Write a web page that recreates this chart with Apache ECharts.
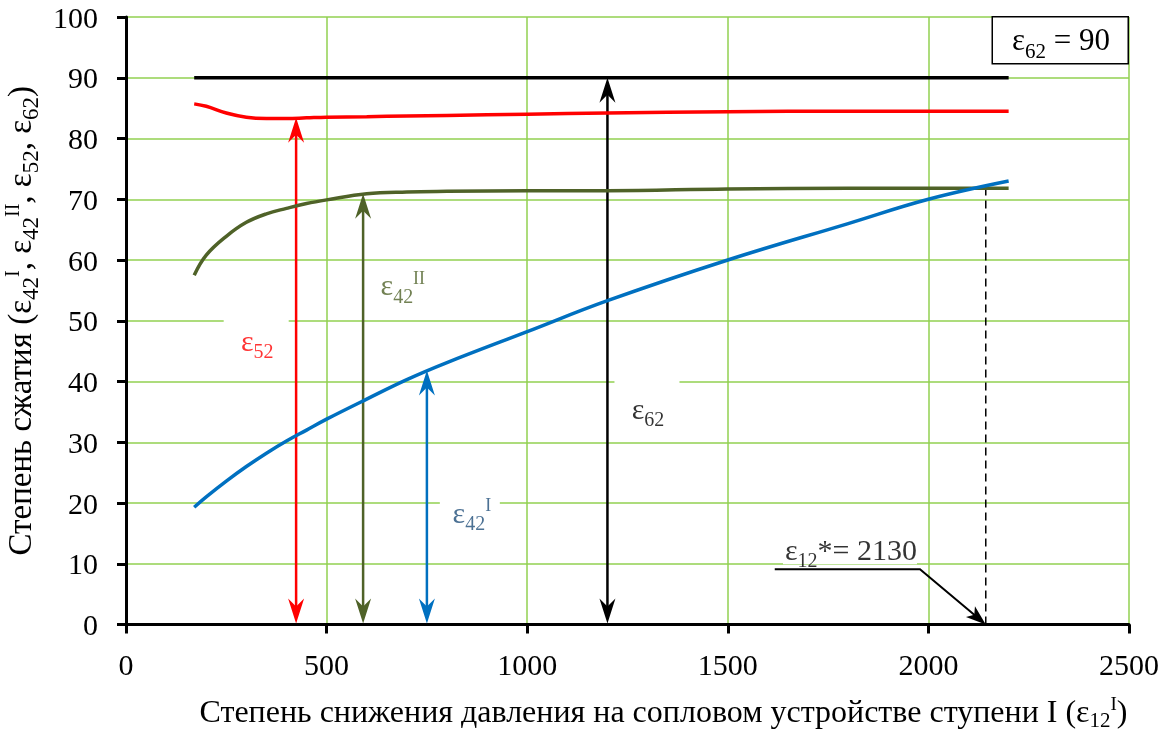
<!DOCTYPE html>
<html><head><meta charset="utf-8">
<script src="https://cdn.jsdelivr.net/npm/echarts@6/dist/echarts.min.js"></script>
<style>
html,body{margin:0;padding:0;background:#fff}
#wrap{position:relative;width:1170px;height:732px}
#c,#t{position:absolute;left:0;top:0;width:1170px;height:732px}
#t svg text{font-family:'Liberation Serif','Times New Roman',serif !important}
</style>
</head><body><div id="wrap"><div id="c"></div><div id="t"></div></div>
<script>
// ---- data ----
const xValues = [170, 200, 250, 300, 350, 400, 450, 500, 600, 700, 800, 1000, 1200, 1500, 1800, 2000, 2200];
const eps62   = [90, 90, 90, 90, 90, 90, 90, 90, 90, 90, 90, 90, 90, 90, 90, 90, 90];
const eps52   = [85.7, 85.3, 84.2, 83.5, 83.3, 83.3, 83.4, 83.5, 83.6, 83.7, 83.8, 84.0, 84.2, 84.4, 84.5, 84.5, 84.5];
const eps42II = [57.5, 60.8, 63.9, 66.2, 67.6, 68.5, 69.3, 69.9, 70.9, 71.2, 71.3, 71.4, 71.4, 71.7, 71.8, 71.8, 71.8];
const eps42I  = [19.3, 21.0, 23.6, 26.0, 28.2, 30.2, 32.0, 33.8, 37.1, 40.3, 43.1, 48.2, 53.3, 60.0, 66.0, 70.0, 73.0];
const xTickLabels = ['0', '500', '1000', '1500', '2000', '2500'];
const yTickLabels = ['0', '10', '20', '30', '40', '50', '60', '70', '80', '90', '100'];
// double-headed vertical arrows: x position and top value (bottom = 0)
const arrowX   = [424, 591, 750, 1200];
const arrowTop = [83.4, 70.9, 41.8, 90];
// optimum marker
const optimumX = 2143;
const optimumTop = 71.6;
const optimumLabel = 2130;
const leaderPath = [[1617, 9.1], [1979, 9.1], [2143, 0]];
// curve labels (anchor in data coords)
const labelNames = ['eps52', 'eps42II', 'eps42I', 'eps62', 'eps12'];
const labelAnchors = [[327, 46.8], [690, 55.9], [862, 18.5], [1301, 35.6], [1807, 12.4]];
const eps62Value = 90;

// ---- styles ----
const FONT = "'Liberation Serif', 'Times New Roman', serif";
const GRID_GREEN = '#92D050';
const RED = '#FF0000', OLIVE = '#4F6228', BLUE = '#0070C0', BLACK = '#000000', DARKBLUE = '#1F4E79';
const arrowColors = [RED, OLIVE, BLUE, BLACK];
// white masks behind labels (pixel box: dx, dy offset of centre, w, h)
const maskBoxes = [[-1, -1, 65, 46], [0, 0, 0, 0], [-2, -6, 60, 30], [-1, -4, 65, 58], [-1, -2, 134, 34]];

const labelRich = {
  e: { fontFamily: FONT, fontSize: 30, lineHeight: 42 },
  s: { fontFamily: FONT, fontSize: 20, lineHeight: 10, verticalAlign: 'bottom' },
  p: { fontFamily: FONT, fontSize: 18, lineHeight: 10, verticalAlign: 'top', padding: [5, 0, 0, 0] }
};
const labelDefs = {
  eps52:   { text: '{e|ε}{s|52}', color: RED },
  eps42II: { text: '{e|ε}{s|42}{p|II}', color: OLIVE },
  eps42I:  { text: '{e|ε}{s|42}{p|I}', color: DARKBLUE },
  eps62:   { text: '{e|ε}{s|62}', color: BLACK },
  eps12:   { text: '{e|ε}{s|12}{e|*= ' + optimumLabel + '}', color: BLACK }
};

const pairs = (ys) => xValues.map((x, i) => [x, ys[i]]);

function arrowHead(tip, dir, L, W, notch) {
  const nx = -dir[1], ny = dir[0];
  const bx = tip[0] - dir[0] * L, by = tip[1] - dir[1] * L;
  const cx = tip[0] - dir[0] * (L - notch), cy = tip[1] - dir[1] * (L - notch);
  return [tip, [bx + nx * W, by + ny * W], [cx, cy], [bx - nx * W, by - ny * W]];
}

const GRID = { left: 126, right: 41, top: 17, bottom: 107.5, containLabel: false, outerBoundsMode: 'none' };

// ---------- chart 1: grid, axis lines, marks ----------
const optionMarks = {
  animation: false,
  backgroundColor: '#fff',
  grid: GRID,
  graphic: [{
    type: 'rect', right: 41, top: 16, z: 100,
    shape: { width: 136, height: 47 },
    style: { fill: '#fff', stroke: '#000', lineWidth: 1.5 }
  }],
  xAxis: {
    type: 'value', min: 0, max: 2500, interval: 500,
    axisLine: { show: true, onZero: false, lineStyle: { color: '#000', width: 3 } },
    axisTick: { show: true, length: 9, lineStyle: { color: '#000', width: 3 } },
    axisLabel: { show: false },
    splitLine: { show: true, lineStyle: { color: GRID_GREEN, width: 1.5 } }
  },
  yAxis: {
    type: 'value', min: 0, max: 100, interval: 10,
    axisLine: { show: true, lineStyle: { color: '#000', width: 3 } },
    axisTick: { show: true, length: 9, lineStyle: { color: '#000', width: 3 } },
    axisLabel: { show: false },
    splitLine: { show: true, lineStyle: { color: GRID_GREEN, width: 1.5 } }
  },
  series: [
    {
      type: 'custom', z: 1, silent: true,
      data: labelAnchors,
      renderItem: (params, api) => {
        const b = maskBoxes[params.dataIndex];
        const p = api.coord([api.value(0), api.value(1)]);
        return { type: 'rect', shape: { x: p[0] + b[0] - b[2] / 2, y: p[1] + b[1] - b[3] / 2, width: b[2], height: b[3] },
          style: { fill: '#fff' } };
      }
    },
    {
      type: 'custom', z: 2, silent: true,
      data: arrowX.map((x, i) => [x, arrowTop[i]]),
      renderItem: (params, api) => {
        const i = params.dataIndex;
        const x = api.value(0), top = api.value(1);
        const p0 = api.coord([x, 0]);
        const p1 = api.coord([x, top]);
        const col = arrowColors[i];
        return {
          type: 'group',
          children: [
            { type: 'line', shape: { x1: p0[0], y1: p0[1] - 10, x2: p1[0], y2: p1[1] + 10 },
              style: { stroke: col, lineWidth: 2.5 } },
            { type: 'polygon', shape: { points: arrowHead(p1, [0, -1], 25, 8, 8) }, style: { fill: col } },
            { type: 'polygon', shape: { points: arrowHead([p0[0], p0[1] - 1], [0, 1], 25, 8, 8) }, style: { fill: col } }
          ]
        };
      }
    },
    {
      type: 'custom', z: 2, silent: true,
      data: [[optimumX, optimumTop]],
      renderItem: (params, api) => {
        const pa = api.coord([api.value(0), 0]);
        const pb = api.coord([api.value(0), api.value(1)]);
        const pts = leaderPath.map((p) => api.coord(p));
        const a = pts[pts.length - 2], b = pts[pts.length - 1];
        const len = Math.hypot(b[0] - a[0], b[1] - a[1]);
        const dir = [(b[0] - a[0]) / len, (b[1] - a[1]) / len];
        const lineEnd = [b[0] - dir[0] * 10, b[1] - dir[1] * 10];
        return {
          type: 'group',
          children: [
            { type: 'line', shape: { x1: pa[0], y1: pa[1], x2: pb[0], y2: pb[1] },
              style: { stroke: '#000', lineWidth: 1.5, lineDash: [8, 5] } },
            { type: 'polyline', shape: { points: pts.slice(0, -1).concat([lineEnd]) },
              style: { stroke: '#000', lineWidth: 2, fill: null } },
            { type: 'polygon', shape: { points: arrowHead(b, dir, 20, 7, 5) }, style: { fill: '#000' } }
          ]
        };
      }
    },
    { type: 'line', name: 'ε62', z: 3, data: pairs(eps62), symbol: 'none', smooth: false,
      lineStyle: { color: BLACK, width: 3.5 } },
    { type: 'line', name: 'ε52', z: 3, data: pairs(eps52), symbol: 'none', smooth: 0.4,
      lineStyle: { color: RED, width: 3.5 } },
    { type: 'line', name: 'ε42II', z: 3, data: pairs(eps42II), symbol: 'none', smooth: 0.4,
      lineStyle: { color: OLIVE, width: 3.5 } },
    { type: 'line', name: 'ε42I', z: 4, data: pairs(eps42I), symbol: 'none', smooth: 0.4,
      lineStyle: { color: BLUE, width: 3.5 } }
  ]
};

// ---------- chart 2: all text (same axes), SVG renderer ----------
const NBSP = '\u00A0';
const optionText = {
  animation: false,
  textStyle: { fontFamily: FONT },
  grid: GRID,
  title: {
    text: '{e|ε}{s|62}{e| = ' + eps62Value + '}',
    right: 55, top: 12,
    textStyle: { fontFamily: FONT, fontWeight: 'normal', color: '#000',
      rich: {
        e: { fontFamily: FONT, fontSize: 31, lineHeight: 44 },
        s: { fontFamily: FONT, fontSize: 21, lineHeight: 10, verticalAlign: 'bottom' }
      } }
  },
  xAxis: {
    type: 'value', min: 0, max: 2500, interval: 500,
    axisLine: { show: false, onZero: false }, axisTick: { show: false }, splitLine: { show: false },
    axisLabel: { fontFamily: FONT, fontSize: 30, color: '#000', margin: 25,
      formatter: (v) => String(xTickLabels[Math.round(v / 500)]) },
    name: NBSP.repeat(9) + 'Степень снижения давления на сопловом устройстве ступени I (ε{s|12}{p|I})',
    nameLocation: 'middle', nameGap: 66,
    nameTextStyle: { fontFamily: FONT, fontSize: 32, color: '#000', lineHeight: 40,
      rich: { s: { fontFamily: FONT, fontSize: 21, lineHeight: 10, verticalAlign: 'bottom' },
              p: { fontFamily: FONT, fontSize: 19, lineHeight: 10, verticalAlign: 'top', padding: [3, 0, 0, 0] } } }
  },
  yAxis: {
    type: 'value', min: 0, max: 100, interval: 10,
    axisLine: { show: false }, axisTick: { show: false }, splitLine: { show: false },
    axisLabel: { fontFamily: FONT, fontSize: 30, color: '#000', margin: 28,
      formatter: (v) => String(yTickLabels[Math.round(v / 10)]) },
    name: 'Степень сжатия (ε{s|42}{p|I}, ε{s|42}{p|II}, ε{s|52}, ε{s|62})',
    nameLocation: 'middle', nameGap: 74, nameRotate: 90,
    nameTextStyle: { fontFamily: FONT, fontSize: 33, color: '#000', lineHeight: 44,
      rich: { s: { fontFamily: FONT, fontSize: 23, lineHeight: 10, verticalAlign: 'bottom' },
              p: { fontFamily: FONT, fontSize: 20, lineHeight: 10, verticalAlign: 'top', padding: [4, 0, 0, 0] } } }
  },
  series: [
    {
      type: 'scatter', silent: true, symbolSize: 0,
      data: labelNames.map((n, i) => ({
        value: labelAnchors[i],
        label: {
          show: true, position: 'inside', fontFamily: FONT,
          formatter: labelDefs[n].text, color: labelDefs[n].color,
          rich: labelRich
        }
      }))
    }
  ]
};

const chartMarks = echarts.init(document.getElementById('c'), null, { renderer: 'canvas' });
chartMarks.setOption(optionMarks);
const chartText = echarts.init(document.getElementById('t'), null, { renderer: 'svg' });
chartText.setOption(optionText);
</script>
</body></html>
